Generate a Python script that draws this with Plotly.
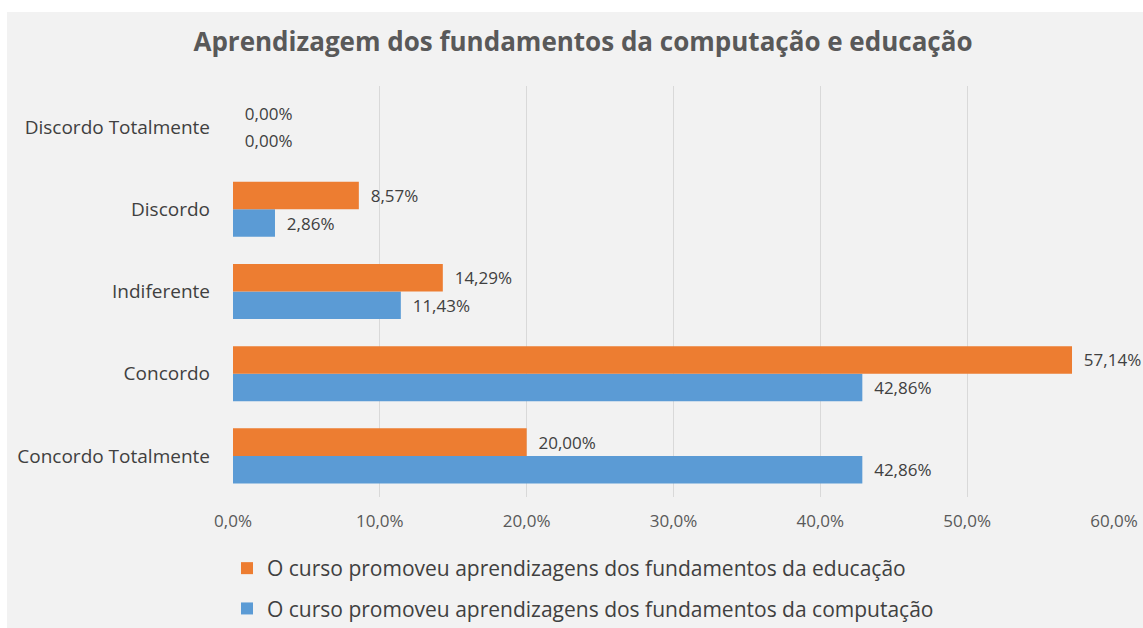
import plotly.graph_objects as go

categories = ["Concordo Totalmente", "Concordo", "Indiferente", "Discordo", "Discordo Totalmente"]
educacao = [20.00, 57.14, 14.29, 8.57, 0.00]
computacao = [42.86, 42.86, 11.43, 2.86, 0.00]
name_edu = "O curso promoveu aprendizagens dos fundamentos da educação"
name_comp = "O curso promoveu aprendizagens dos fundamentos da computação"
tick_vals = [0, 10, 20, 30, 40, 50, 60]
tick_labels = ["0,0%", "10,0%", "20,0%", "30,0%", "40,0%", "50,0%", "60,0%"]

FONT = "Open Sans"
W, H = 1143, 628
L, R, T, B = 233, 29, 86, 131
pw, ph = W - L - R, H - T - B

fig = go.Figure()
fig.add_trace(go.Bar(
    y=categories, x=computacao, orientation="h", name=name_comp,
    marker=dict(color="#5B9BD5", line=dict(width=0)),
    texttemplate="  %{x:.2f}%", textposition="outside", cliponaxis=False,
    textfont=dict(family=FONT, size=17, color="#404040"),
    legendgroup="b", legendrank=2, hoverinfo="skip",
))
fig.add_trace(go.Bar(
    y=categories, x=educacao, orientation="h", name=name_edu,
    marker=dict(color="#ED7D31", line=dict(width=0)),
    texttemplate="  %{x:.2f}%", textposition="outside", cliponaxis=False,
    textfont=dict(family=FONT, size=17, color="#404040"),
    legendgroup="a", legendrank=1, hoverinfo="skip",
))

def px_x(p):
    return (p - L) / pw

def px_y(p):
    return (H - B - p) / ph

fig.update_layout(
    width=W, height=H,
    margin=dict(l=L, r=R, t=T, b=B, autoexpand=False),
    paper_bgcolor="white", plot_bgcolor="rgba(0,0,0,0)",
    separators=",.",
    barmode="group", bargap=0.33, bargroupgap=0.0,
    font=dict(family=FONT, color="#404040"),
    title=dict(text="<b>Aprendizagem dos fundamentos da computação e educação</b>",
               x=583 / W, xref="container", xanchor="center", y=1 - 42 / H, yanchor="middle",
               font=dict(family=FONT, size=26, color="#595959")),
    xaxis=dict(range=[0, 60], tickvals=tick_vals, ticktext=tick_labels,
               showgrid=True, gridcolor="#d9d9d9", gridwidth=1, zeroline=False,
               showline=False, ticks="", ticklabelstandoff=12,
               tickfont=dict(family=FONT, size=17, color="#595959")),
    yaxis=dict(showgrid=False, zeroline=False, showline=False, ticks="",
               ticklabelstandoff=22,
               tickfont=dict(family=FONT, size=19, color="#404040")),
    legend=dict(orientation="v", x=px_x(227), xanchor="left", y=px_y(548), yanchor="top",
                traceorder="grouped", tracegroupgap=10, bgcolor="rgba(0,0,0,0)",
                font=dict(family=FONT, size=21, color="#404040")),
    shapes=[dict(type="rect", xref="paper", yref="paper",
                 x0=px_x(7), x1=px_x(W + 5), y0=px_y(H + 5), y1=px_y(12),
                 fillcolor="#f2f2f2", line=dict(width=0), layer="below")],
)

fig.write_html("out.html", config={"displayModeBar": False},
               post_script="document.body.style.margin='0';document.body.style.overflow='hidden';")
